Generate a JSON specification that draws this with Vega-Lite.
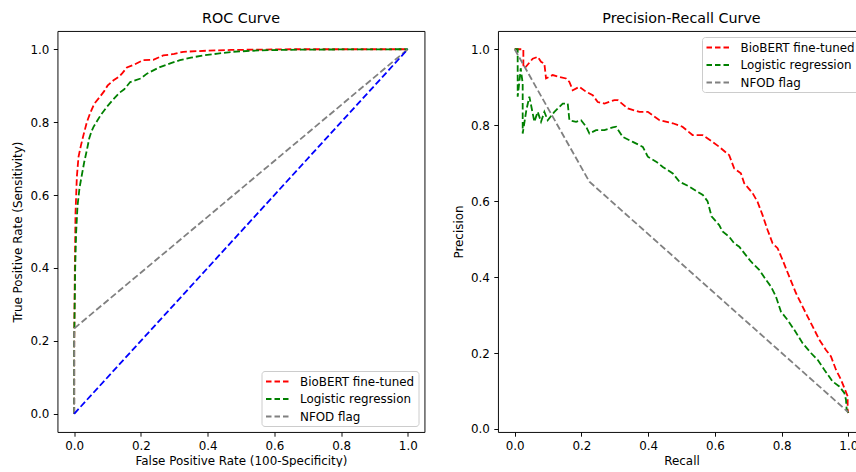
{
  "$schema": "https://vega.github.io/schema/vega-lite/v6.json",
  "background": "white",
  "padding": {"left": 10.5, "top": 11, "right": 0, "bottom": 0},
  "spacing": 73.5,
  "bounds": "flush",
  "resolve": {"legend": {"color": "independent"}},
  "config": {
    "font": "DejaVu Sans",
    "view": {"stroke": "black", "strokeWidth": 0.95},
    "axis": {
      "grid": false, "domain": false,
      "tickColor": "black", "tickSize": 4.2, "tickWidth": 0.95,
      "labelFont": "DejaVu Sans", "labelFontSize": 11.9, "labelColor": "black", "labelPadding": 4.5,
      "titleFont": "DejaVu Sans", "titleFontSize": 11.9, "titleFontWeight": "normal", "titleColor": "black", "titlePadding": 6
    },
    "axisX": {"labelPadding": 3.8, "titlePadding": 4.7},
    "title": {"font": "DejaVu Sans", "fontSize": 14.3, "fontWeight": "normal", "color": "black", "offset": 5.2},
    "legend": {
      "symbolType": "M-1,0H3", "symbolStrokeWidth": 1.8, "symbolDash": [5.5, 3], "symbolSize": 144,
      "labelFont": "DejaVu Sans", "labelFontSize": 11.9, "labelColor": "black", "labelOffset": 21,
      "rowPadding": 4.5, "padding": 3.5, "strokeColor": "#cccccc", "fillColor": "rgba(255,255,255,0.8)",
      "cornerRadius": 3, "offset": 6
    }
  },
  "datasets": {
    "diag": [{"x": 0, "y": 0, "i": 0}, {"x": 1, "y": 1, "i": 1}],
    "roc": [
      {"series": "BioBERT fine-tuned", "i": 0, "x": 0, "y": 0},
      {"series": "BioBERT fine-tuned", "i": 1, "x": 0, "y": 0.18},
      {"series": "BioBERT fine-tuned", "i": 2, "x": 0.002, "y": 0.4},
      {"series": "BioBERT fine-tuned", "i": 3, "x": 0.004, "y": 0.55},
      {"series": "BioBERT fine-tuned", "i": 4, "x": 0.008, "y": 0.65},
      {"series": "BioBERT fine-tuned", "i": 5, "x": 0.013, "y": 0.705},
      {"series": "BioBERT fine-tuned", "i": 6, "x": 0.02, "y": 0.735},
      {"series": "BioBERT fine-tuned", "i": 7, "x": 0.028, "y": 0.765},
      {"series": "BioBERT fine-tuned", "i": 8, "x": 0.038, "y": 0.8},
      {"series": "BioBERT fine-tuned", "i": 9, "x": 0.048, "y": 0.825},
      {"series": "BioBERT fine-tuned", "i": 10, "x": 0.06, "y": 0.85},
      {"series": "BioBERT fine-tuned", "i": 11, "x": 0.075, "y": 0.867},
      {"series": "BioBERT fine-tuned", "i": 12, "x": 0.09, "y": 0.885},
      {"series": "BioBERT fine-tuned", "i": 13, "x": 0.1, "y": 0.9},
      {"series": "BioBERT fine-tuned", "i": 14, "x": 0.118, "y": 0.915},
      {"series": "BioBERT fine-tuned", "i": 15, "x": 0.135, "y": 0.925},
      {"series": "BioBERT fine-tuned", "i": 16, "x": 0.145, "y": 0.935},
      {"series": "BioBERT fine-tuned", "i": 17, "x": 0.158, "y": 0.95},
      {"series": "BioBERT fine-tuned", "i": 18, "x": 0.18, "y": 0.958},
      {"series": "BioBERT fine-tuned", "i": 19, "x": 0.207, "y": 0.97},
      {"series": "BioBERT fine-tuned", "i": 20, "x": 0.237, "y": 0.971},
      {"series": "BioBERT fine-tuned", "i": 21, "x": 0.267, "y": 0.983},
      {"series": "BioBERT fine-tuned", "i": 22, "x": 0.3, "y": 0.987},
      {"series": "BioBERT fine-tuned", "i": 23, "x": 0.327, "y": 0.993},
      {"series": "BioBERT fine-tuned", "i": 24, "x": 0.4, "y": 0.996},
      {"series": "BioBERT fine-tuned", "i": 25, "x": 0.47, "y": 0.998},
      {"series": "BioBERT fine-tuned", "i": 26, "x": 0.557, "y": 0.999},
      {"series": "BioBERT fine-tuned", "i": 27, "x": 0.65, "y": 1.0},
      {"series": "BioBERT fine-tuned", "i": 28, "x": 1, "y": 1},
      {"series": "Logistic regression", "i": 0, "x": 0, "y": 0},
      {"series": "Logistic regression", "i": 1, "x": 0, "y": 0.2},
      {"series": "Logistic regression", "i": 2, "x": 0.003, "y": 0.4},
      {"series": "Logistic regression", "i": 3, "x": 0.006, "y": 0.5},
      {"series": "Logistic regression", "i": 4, "x": 0.01, "y": 0.57},
      {"series": "Logistic regression", "i": 5, "x": 0.016, "y": 0.62},
      {"series": "Logistic regression", "i": 6, "x": 0.023, "y": 0.655},
      {"series": "Logistic regression", "i": 7, "x": 0.03, "y": 0.69},
      {"series": "Logistic regression", "i": 8, "x": 0.038, "y": 0.723},
      {"series": "Logistic regression", "i": 9, "x": 0.045, "y": 0.755},
      {"series": "Logistic regression", "i": 10, "x": 0.052, "y": 0.775},
      {"series": "Logistic regression", "i": 11, "x": 0.058, "y": 0.787},
      {"series": "Logistic regression", "i": 12, "x": 0.07, "y": 0.805},
      {"series": "Logistic regression", "i": 13, "x": 0.08, "y": 0.82},
      {"series": "Logistic regression", "i": 14, "x": 0.098, "y": 0.842},
      {"series": "Logistic regression", "i": 15, "x": 0.115, "y": 0.86},
      {"series": "Logistic regression", "i": 16, "x": 0.135, "y": 0.88},
      {"series": "Logistic regression", "i": 17, "x": 0.15, "y": 0.89},
      {"series": "Logistic regression", "i": 18, "x": 0.168, "y": 0.91},
      {"series": "Logistic regression", "i": 19, "x": 0.2, "y": 0.92},
      {"series": "Logistic regression", "i": 20, "x": 0.218, "y": 0.933},
      {"series": "Logistic regression", "i": 21, "x": 0.257, "y": 0.951},
      {"series": "Logistic regression", "i": 22, "x": 0.29, "y": 0.962},
      {"series": "Logistic regression", "i": 23, "x": 0.317, "y": 0.97},
      {"series": "Logistic regression", "i": 24, "x": 0.35, "y": 0.977},
      {"series": "Logistic regression", "i": 25, "x": 0.387, "y": 0.983},
      {"series": "Logistic regression", "i": 26, "x": 0.43, "y": 0.988},
      {"series": "Logistic regression", "i": 27, "x": 0.477, "y": 0.993},
      {"series": "Logistic regression", "i": 28, "x": 0.557, "y": 0.997},
      {"series": "Logistic regression", "i": 29, "x": 0.68, "y": 0.999},
      {"series": "Logistic regression", "i": 30, "x": 1, "y": 1},
      {"series": "NFOD flag", "i": 0, "x": 0, "y": 0},
      {"series": "NFOD flag", "i": 1, "x": 0, "y": 0.234},
      {"series": "NFOD flag", "i": 2, "x": 1, "y": 1}
    ],
    "pr": [
      {"series": "BioBERT fine-tuned", "i": 0, "x": 0, "y": 1},
      {"series": "BioBERT fine-tuned", "i": 1, "x": 0.026, "y": 1},
      {"series": "BioBERT fine-tuned", "i": 2, "x": 0.026, "y": 0.958},
      {"series": "BioBERT fine-tuned", "i": 3, "x": 0.03, "y": 0.95},
      {"series": "BioBERT fine-tuned", "i": 4, "x": 0.054, "y": 0.975},
      {"series": "BioBERT fine-tuned", "i": 5, "x": 0.069, "y": 0.98},
      {"series": "BioBERT fine-tuned", "i": 6, "x": 0.079, "y": 0.967},
      {"series": "BioBERT fine-tuned", "i": 7, "x": 0.089, "y": 0.962},
      {"series": "BioBERT fine-tuned", "i": 8, "x": 0.094, "y": 0.923},
      {"series": "BioBERT fine-tuned", "i": 9, "x": 0.114, "y": 0.932},
      {"series": "BioBERT fine-tuned", "i": 10, "x": 0.134, "y": 0.927},
      {"series": "BioBERT fine-tuned", "i": 11, "x": 0.154, "y": 0.923},
      {"series": "BioBERT fine-tuned", "i": 12, "x": 0.164, "y": 0.914},
      {"series": "BioBERT fine-tuned", "i": 13, "x": 0.174, "y": 0.892},
      {"series": "BioBERT fine-tuned", "i": 14, "x": 0.194, "y": 0.901},
      {"series": "BioBERT fine-tuned", "i": 15, "x": 0.214, "y": 0.888},
      {"series": "BioBERT fine-tuned", "i": 16, "x": 0.234, "y": 0.879},
      {"series": "BioBERT fine-tuned", "i": 17, "x": 0.249, "y": 0.861},
      {"series": "BioBERT fine-tuned", "i": 18, "x": 0.269, "y": 0.857},
      {"series": "BioBERT fine-tuned", "i": 19, "x": 0.299, "y": 0.866},
      {"series": "BioBERT fine-tuned", "i": 20, "x": 0.309, "y": 0.866},
      {"series": "BioBERT fine-tuned", "i": 21, "x": 0.339, "y": 0.844},
      {"series": "BioBERT fine-tuned", "i": 22, "x": 0.374, "y": 0.835},
      {"series": "BioBERT fine-tuned", "i": 23, "x": 0.399, "y": 0.835},
      {"series": "BioBERT fine-tuned", "i": 24, "x": 0.434, "y": 0.813},
      {"series": "BioBERT fine-tuned", "i": 25, "x": 0.474, "y": 0.805},
      {"series": "BioBERT fine-tuned", "i": 26, "x": 0.503, "y": 0.796},
      {"series": "BioBERT fine-tuned", "i": 27, "x": 0.533, "y": 0.774},
      {"series": "BioBERT fine-tuned", "i": 28, "x": 0.563, "y": 0.774},
      {"series": "BioBERT fine-tuned", "i": 29, "x": 0.593, "y": 0.756},
      {"series": "BioBERT fine-tuned", "i": 30, "x": 0.613, "y": 0.743},
      {"series": "BioBERT fine-tuned", "i": 31, "x": 0.643, "y": 0.721},
      {"series": "BioBERT fine-tuned", "i": 32, "x": 0.658, "y": 0.686},
      {"series": "BioBERT fine-tuned", "i": 33, "x": 0.678, "y": 0.673},
      {"series": "BioBERT fine-tuned", "i": 34, "x": 0.688, "y": 0.647},
      {"series": "BioBERT fine-tuned", "i": 35, "x": 0.713, "y": 0.621},
      {"series": "BioBERT fine-tuned", "i": 36, "x": 0.728, "y": 0.598},
      {"series": "BioBERT fine-tuned", "i": 37, "x": 0.743, "y": 0.563},
      {"series": "BioBERT fine-tuned", "i": 38, "x": 0.758, "y": 0.524},
      {"series": "BioBERT fine-tuned", "i": 39, "x": 0.773, "y": 0.489},
      {"series": "BioBERT fine-tuned", "i": 40, "x": 0.788, "y": 0.476},
      {"series": "BioBERT fine-tuned", "i": 41, "x": 0.803, "y": 0.445},
      {"series": "BioBERT fine-tuned", "i": 42, "x": 0.823, "y": 0.401},
      {"series": "BioBERT fine-tuned", "i": 43, "x": 0.843, "y": 0.358},
      {"series": "BioBERT fine-tuned", "i": 44, "x": 0.863, "y": 0.322},
      {"series": "BioBERT fine-tuned", "i": 45, "x": 0.878, "y": 0.296},
      {"series": "BioBERT fine-tuned", "i": 46, "x": 0.893, "y": 0.27},
      {"series": "BioBERT fine-tuned", "i": 47, "x": 0.913, "y": 0.235},
      {"series": "BioBERT fine-tuned", "i": 48, "x": 0.933, "y": 0.208},
      {"series": "BioBERT fine-tuned", "i": 49, "x": 0.948, "y": 0.191},
      {"series": "BioBERT fine-tuned", "i": 50, "x": 0.963, "y": 0.156},
      {"series": "BioBERT fine-tuned", "i": 51, "x": 0.978, "y": 0.13},
      {"series": "BioBERT fine-tuned", "i": 52, "x": 0.988, "y": 0.108},
      {"series": "BioBERT fine-tuned", "i": 53, "x": 0.998, "y": 0.086},
      {"series": "BioBERT fine-tuned", "i": 54, "x": 0.998, "y": 0.051},
      {"series": "BioBERT fine-tuned", "i": 55, "x": 1.0, "y": 0.042},
      {"series": "Logistic regression", "i": 0, "x": 0, "y": 1},
      {"series": "Logistic regression", "i": 1, "x": 0.009, "y": 1.0},
      {"series": "Logistic regression", "i": 2, "x": 0.009, "y": 0.875},
      {"series": "Logistic regression", "i": 3, "x": 0.016, "y": 0.93},
      {"series": "Logistic regression", "i": 4, "x": 0.018, "y": 0.95},
      {"series": "Logistic regression", "i": 5, "x": 0.024, "y": 0.91},
      {"series": "Logistic regression", "i": 6, "x": 0.024, "y": 0.778},
      {"series": "Logistic regression", "i": 7, "x": 0.035, "y": 0.84},
      {"series": "Logistic regression", "i": 8, "x": 0.044, "y": 0.875},
      {"series": "Logistic regression", "i": 9, "x": 0.052, "y": 0.84},
      {"series": "Logistic regression", "i": 10, "x": 0.059, "y": 0.809},
      {"series": "Logistic regression", "i": 11, "x": 0.069, "y": 0.835},
      {"series": "Logistic regression", "i": 12, "x": 0.079, "y": 0.809},
      {"series": "Logistic regression", "i": 13, "x": 0.089, "y": 0.835},
      {"series": "Logistic regression", "i": 14, "x": 0.099, "y": 0.813},
      {"series": "Logistic regression", "i": 15, "x": 0.119, "y": 0.835},
      {"series": "Logistic regression", "i": 16, "x": 0.144, "y": 0.857},
      {"series": "Logistic regression", "i": 17, "x": 0.159, "y": 0.857},
      {"series": "Logistic regression", "i": 18, "x": 0.164, "y": 0.813},
      {"series": "Logistic regression", "i": 19, "x": 0.184, "y": 0.809},
      {"series": "Logistic regression", "i": 20, "x": 0.199, "y": 0.813},
      {"series": "Logistic regression", "i": 21, "x": 0.214, "y": 0.796},
      {"series": "Logistic regression", "i": 22, "x": 0.224, "y": 0.778},
      {"series": "Logistic regression", "i": 23, "x": 0.244, "y": 0.787},
      {"series": "Logistic regression", "i": 24, "x": 0.269, "y": 0.787},
      {"series": "Logistic regression", "i": 25, "x": 0.294, "y": 0.794},
      {"series": "Logistic regression", "i": 26, "x": 0.304, "y": 0.796},
      {"series": "Logistic regression", "i": 27, "x": 0.324, "y": 0.769},
      {"series": "Logistic regression", "i": 28, "x": 0.354, "y": 0.756},
      {"series": "Logistic regression", "i": 29, "x": 0.384, "y": 0.743},
      {"series": "Logistic regression", "i": 30, "x": 0.399, "y": 0.717},
      {"series": "Logistic regression", "i": 31, "x": 0.424, "y": 0.704},
      {"series": "Logistic regression", "i": 32, "x": 0.444, "y": 0.69},
      {"series": "Logistic regression", "i": 33, "x": 0.474, "y": 0.673},
      {"series": "Logistic regression", "i": 34, "x": 0.494, "y": 0.651},
      {"series": "Logistic regression", "i": 35, "x": 0.524, "y": 0.638},
      {"series": "Logistic regression", "i": 36, "x": 0.564, "y": 0.616},
      {"series": "Logistic regression", "i": 37, "x": 0.578, "y": 0.6},
      {"series": "Logistic regression", "i": 38, "x": 0.59, "y": 0.56},
      {"series": "Logistic regression", "i": 39, "x": 0.613, "y": 0.537},
      {"series": "Logistic regression", "i": 40, "x": 0.623, "y": 0.52},
      {"series": "Logistic regression", "i": 41, "x": 0.643, "y": 0.506},
      {"series": "Logistic regression", "i": 42, "x": 0.658, "y": 0.489},
      {"series": "Logistic regression", "i": 43, "x": 0.673, "y": 0.48},
      {"series": "Logistic regression", "i": 44, "x": 0.688, "y": 0.463},
      {"series": "Logistic regression", "i": 45, "x": 0.708, "y": 0.441},
      {"series": "Logistic regression", "i": 46, "x": 0.733, "y": 0.419},
      {"series": "Logistic regression", "i": 47, "x": 0.753, "y": 0.393},
      {"series": "Logistic regression", "i": 48, "x": 0.768, "y": 0.375},
      {"series": "Logistic regression", "i": 49, "x": 0.783, "y": 0.349},
      {"series": "Logistic regression", "i": 50, "x": 0.798, "y": 0.309},
      {"series": "Logistic regression", "i": 51, "x": 0.818, "y": 0.287},
      {"series": "Logistic regression", "i": 52, "x": 0.838, "y": 0.261},
      {"series": "Logistic regression", "i": 53, "x": 0.863, "y": 0.226},
      {"series": "Logistic regression", "i": 54, "x": 0.888, "y": 0.2},
      {"series": "Logistic regression", "i": 55, "x": 0.908, "y": 0.182},
      {"series": "Logistic regression", "i": 56, "x": 0.928, "y": 0.156},
      {"series": "Logistic regression", "i": 57, "x": 0.953, "y": 0.125},
      {"series": "Logistic regression", "i": 58, "x": 0.973, "y": 0.112},
      {"series": "Logistic regression", "i": 59, "x": 0.988, "y": 0.095},
      {"series": "Logistic regression", "i": 60, "x": 0.993, "y": 0.077},
      {"series": "Logistic regression", "i": 61, "x": 0.995, "y": 0.051},
      {"series": "Logistic regression", "i": 62, "x": 1.0, "y": 0.042},
      {"series": "NFOD flag", "i": 0, "x": 0, "y": 1},
      {"series": "NFOD flag", "i": 1, "x": 0.224, "y": 0.651},
      {"series": "NFOD flag", "i": 2, "x": 1.0, "y": 0.044}
    ]
  },
  "hconcat": [
    {
      "title": "ROC Curve",
      "width": 367,
      "height": 401,
      "layer": [
        {
          "data": {"name": "roc"},
          "mark": {"type": "line", "strokeDash": [6.6, 2.9]},
          "encoding": {
            "x": {"field": "x", "type": "quantitative", "scale": {"domain": [-0.05, 1.05], "nice": false, "zero": false}, "axis": {"title": "False Positive Rate (100-Specificity)", "values": [0, 0.2, 0.4, 0.6, 0.8, 1.0], "format": ".1f"}},
            "y": {"field": "y", "type": "quantitative", "scale": {"domain": [-0.05, 1.05], "nice": false, "zero": false}, "axis": {"title": "True Positive Rate (Sensitivity)", "values": [0, 0.2, 0.4, 0.6, 0.8, 1.0], "format": ".1f"}},
            "color": {"field": "series", "type": "nominal", "scale": {"domain": ["BioBERT fine-tuned", "Logistic regression", "NFOD flag"], "range": ["red", "green", "gray"]}, "legend": {"orient": "bottom-right", "title": null}},
            "strokeWidth": {"field": "series", "type": "nominal", "scale": {"domain": ["BioBERT fine-tuned", "Logistic regression", "NFOD flag"], "range": [1.8, 1.8, 1.5]}, "legend": null},
            "order": {"field": "i", "type": "quantitative"}
          }
        },
        {
          "data": {"name": "diag"},
          "mark": {"type": "line", "color": "blue", "strokeDash": [6.6, 2.9], "strokeWidth": 1.8},
          "encoding": {
            "x": {"field": "x", "type": "quantitative"},
            "y": {"field": "y", "type": "quantitative"},
            "order": {"field": "i", "type": "quantitative"}
          }
        }
      ]
    },
    {
      "title": "Precision-Recall Curve",
      "width": 367,
      "height": 401,
      "layer": [
        {
          "data": {"name": "pr"},
          "mark": {"type": "line", "strokeDash": [6.6, 2.9]},
          "encoding": {
            "x": {"field": "x", "type": "quantitative", "scale": {"domain": [-0.05, 1.05], "nice": false, "zero": false}, "axis": {"title": "Recall", "values": [0, 0.2, 0.4, 0.6, 0.8, 1.0], "format": ".1f"}},
            "y": {"field": "y", "type": "quantitative", "scale": {"domain": [-0.008, 1.048], "nice": false, "zero": false}, "axis": {"title": "Precision", "values": [0, 0.2, 0.4, 0.6, 0.8, 1.0], "format": ".1f"}},
            "color": {"field": "series", "type": "nominal", "scale": {"domain": ["BioBERT fine-tuned", "Logistic regression", "NFOD flag"], "range": ["red", "green", "gray"]}, "legend": {"orient": "top-right", "title": null}},
            "strokeWidth": {"field": "series", "type": "nominal", "scale": {"domain": ["BioBERT fine-tuned", "Logistic regression", "NFOD flag"], "range": [1.8, 1.8, 1.5]}, "legend": null},
            "order": {"field": "i", "type": "quantitative"}
          }
        }
      ]
    }
  ]
}
